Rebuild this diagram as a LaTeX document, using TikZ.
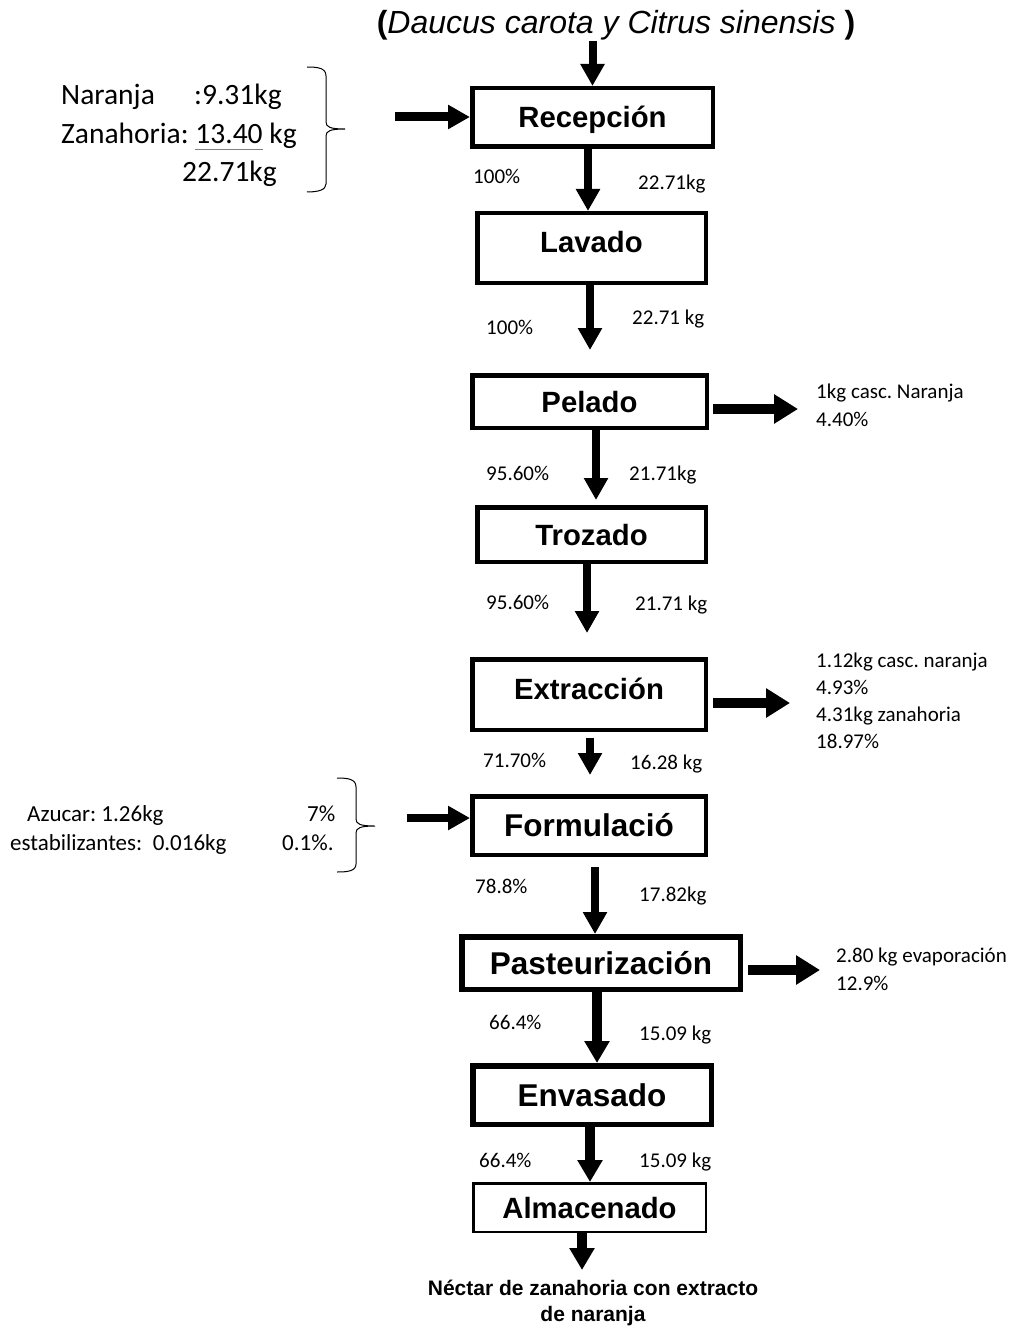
\documentclass[tikz,border=0pt]{standalone}
\usepackage{fontspec}
\setmainfont{Carlito}
\newfontfamily\arialfont{Liberation Sans}
\usetikzlibrary{arrows.meta,calc}
\newcommand\grayul[1]{\setbox0\hbox{#1}\rlap{\color{gray}\rule[-6pt]{\wd0}{1.3pt}}\box0\relax}
\frenchspacing
\begin{document}
\frenchspacing
\begin{tikzpicture}[x=1pt,y=-1pt,
  box/.style={draw, line width=4.5pt, inner sep=0pt,
    font=\arialfont\bfseries\fontsize{29.3}{32}\selectfont, text height=21pt, text depth=0pt},
  bigbox/.style={box, line width=5.5pt, font=\arialfont\bfseries\fontsize{31.5}{34}\selectfont, text height=22.5pt},
  arr/.style={line width=8pt, -{Triangle[width=23pt,length=22pt]}},
  arrb/.style={line width=10.5pt, -{Triangle[width=24pt,length=22pt]}},
  arrR/.style={line width=9.5pt, -{Triangle[width=28pt,length=24pt]}},
  lbl/.style={anchor=base west, inner sep=0pt, font=\fontsize{21}{25}\selectfont},
  big/.style={anchor=base west, inner sep=0pt, font=\fontsize{29.5}{35}\selectfont},
  mid/.style={anchor=base west, inner sep=0pt, font=\fontsize{23}{28}\selectfont},
  brace/.style={line width=1pt}]
\useasboundingbox (0,0) rectangle (1016,1332);
\fill[white] (0,0) rectangle (1016,1332);

% title
\node[anchor=base, inner sep=0pt, font=\arialfont\fontsize{32}{36}\selectfont] (title) at (616,34)
  {\textbf{(}\textit{Daucus carota y Citrus sinensis }\textbf{)}};

% process boxes
\node[box, minimum width=240.5pt, minimum height=58.5pt] (rec) at (592.5,117.5) {Recepción};
\node[box, minimum width=228.5pt, minimum height=69.5pt, text depth=12pt] (lav) at (591.5,248) {Lavado};
\node[box, minimum width=234.5pt, minimum height=52.5pt] (pel) at (589.5,401.5) {Pelado};
\node[box, minimum width=228.5pt, minimum height=54.5pt] (tro) at (591.5,534.5) {Trozado};
\node[box, minimum width=233.5pt, minimum height=70.5pt, text depth=12pt] (ext) at (589,694.5) {Extracción};
\node[bigbox, minimum width=233.5pt, minimum height=58.5pt, line width=4.5pt] (for) at (589,825.5) {Formulació};
\node[bigbox, minimum width=278.5pt, minimum height=52.5pt] (pas) at (601,963) {Pasteurización};
\node[bigbox, minimum width=238.5pt, minimum height=58.5pt] (env) at (592,1095) {Envasado};
\node[box, line width=2.5pt, minimum width=232.5pt, minimum height=48.5pt] (alm) at (589.5,1207.5) {Almacenado};

% final product
\node[font=\arialfont\bfseries\fontsize{21}{26}\selectfont, align=center, inner sep=0pt, anchor=north]
  (prod) at (593,1280) {Néctar de zanahoria con extracto\\de naranja};

% vertical flow arrows
\draw[arr] (rec.north |- title.south) -- (rec.north);
\draw[arr] ($(rec.south)+(-4.5,0)$) -- ($(lav.north -| rec.south)+(-4.5,0)$);
\draw[arr, shorten >=23pt] ($(lav.south)+(-1.5,0)$) -- ($(pel.north -| lav.south)+(-1.5,0)$);
\draw[arr, shorten >=5pt] ($(pel.south)+(6.5,0)$) -- ($(tro.north -| pel.south)+(6.5,0)$);
\draw[arr, shorten >=24pt] ($(tro.south)+(-4.5,0)$) -- ($(ext.north -| tro.south)+(-4.5,0)$);
\draw[arr, shorten <=6pt, shorten >=19pt] ($(ext.south)+(1,0)$) -- ($(for.north -| ext.south)+(1,0)$);
\draw[arr, shorten <=10pt] ($(for.south)+(6,0)$) -- ($(pas.north -| for.south)+(6,0)$);
\draw[arrb] ($(pas.south)+(-4,0)$) -- ($(env.north -| pas.south)+(-4,0)$);
\draw[arrb] ($(env.south)+(-2,0)$) -- ($(alm.north -| env.south)+(-2,0)$);
\coordinate (outend) at (582,1270);
\draw[arrb] (outend |- alm.south) -- (outend);

% inputs
\coordinate (recin) at (395,117);
\draw[line width=9pt, -{Triangle[width=23pt,length=22pt]}] (recin) -- (recin -| rec.west);
\coordinate (forin) at (407,818);
\draw[line width=8.5pt, -{Triangle[width=23pt,length=22pt]}] (forin) -- (forin -| for.west);

% outputs
\coordinate (pelend) at (798,409);
\draw[arrR, shorten <=4pt] (pelend -| pel.east) -- (pelend);
\coordinate (extend) at (790,703);
\draw[arrR, shorten <=5pt] (extend -| ext.east) -- (extend);
\coordinate (pasend) at (820,970);
\draw[arrR, shorten <=5pt] (pasend -| pas.east) -- (pasend);

% left input block 1
\node[big] (nar) at (61,105) {Naranja};
\node[big] (narv) at (194,105) {:9.31kg};
\node[big] (zan) at (61,144) {Zanahoria: \grayul{13.40} kg};
\node[big] (tot) at (182,182) {22.71kg};
\draw[brace] (307,67) .. controls (318,67) and (326,68) .. (326,76) -- (326,122)
  .. controls (326,127) and (330,129) .. (345,129)
  .. controls (330,129) and (326,131) .. (326,136) -- (326,184)
  .. controls (326,190) and (318,192) .. (307,192);

% left input block 2
\node[mid] (azu) at (27,821) {Azucar: 1.26kg};
\node[mid] (azup) at (307,821) {7\%};
\node[mid] (est) at (10,850) {estabilizantes:\ \ 0.016kg};
\node[mid] (estp) at (282,850) {0.1\%.};
\draw[brace] (337,778) .. controls (348,778) and (356,779) .. (356,787) -- (356,819)
  .. controls (356,824) and (360,826) .. (375,826)
  .. controls (360,826) and (356,828) .. (356,833) -- (356,864)
  .. controls (356,871) and (348,872) .. (337,872);

% flow labels
\node[lbl] (l1) at (473,184) {100\%};
\node[lbl] (r1) at (638,190) {22.71kg};
\node[lbl] (l2) at (486,334) {100\%};
\node[lbl] (r2) at (632,324) {22.71 kg};
\node[lbl] (l3) at (486,480) {95.60\%};
\node[lbl] (r3) at (629,480) {21.71kg};
\node[lbl] (l4) at (486,609) {95.60\%};
\node[lbl] (r4) at (635,610) {21.71 kg};
\node[lbl] (l5) at (483,767) {71.70\%};
\node[lbl] (r5) at (630,769) {16.28 kg};
\node[lbl] (l6) at (475,893) {78.8\%};
\node[lbl] (r6) at (639,901) {17.82kg};
\node[lbl] (l7) at (489,1029) {66.4\%};
\node[lbl] (r7) at (639,1040) {15.09 kg};
\node[lbl] (l8) at (479,1167) {66.4\%};
\node[lbl] (r8) at (639,1167) {15.09 kg};

% output labels
\node[lbl] (po1) at (816,398) {1kg casc. Naranja};
\node[lbl] (po2) at (816,426) {4.40\%};
\node[lbl] (eo1) at (816,667) {1.12kg casc. naranja};
\node[lbl] (eo2) at (816,694) {4.93\%};
\node[lbl] (eo3) at (816,721) {4.31kg zanahoria};
\node[lbl] (eo4) at (816,748) {18.97\%};
\node[lbl] (so1) at (836,962) {2.80 kg evaporación};
\node[lbl] (so2) at (836,990) {12.9\%};
\end{tikzpicture}
\end{document}
